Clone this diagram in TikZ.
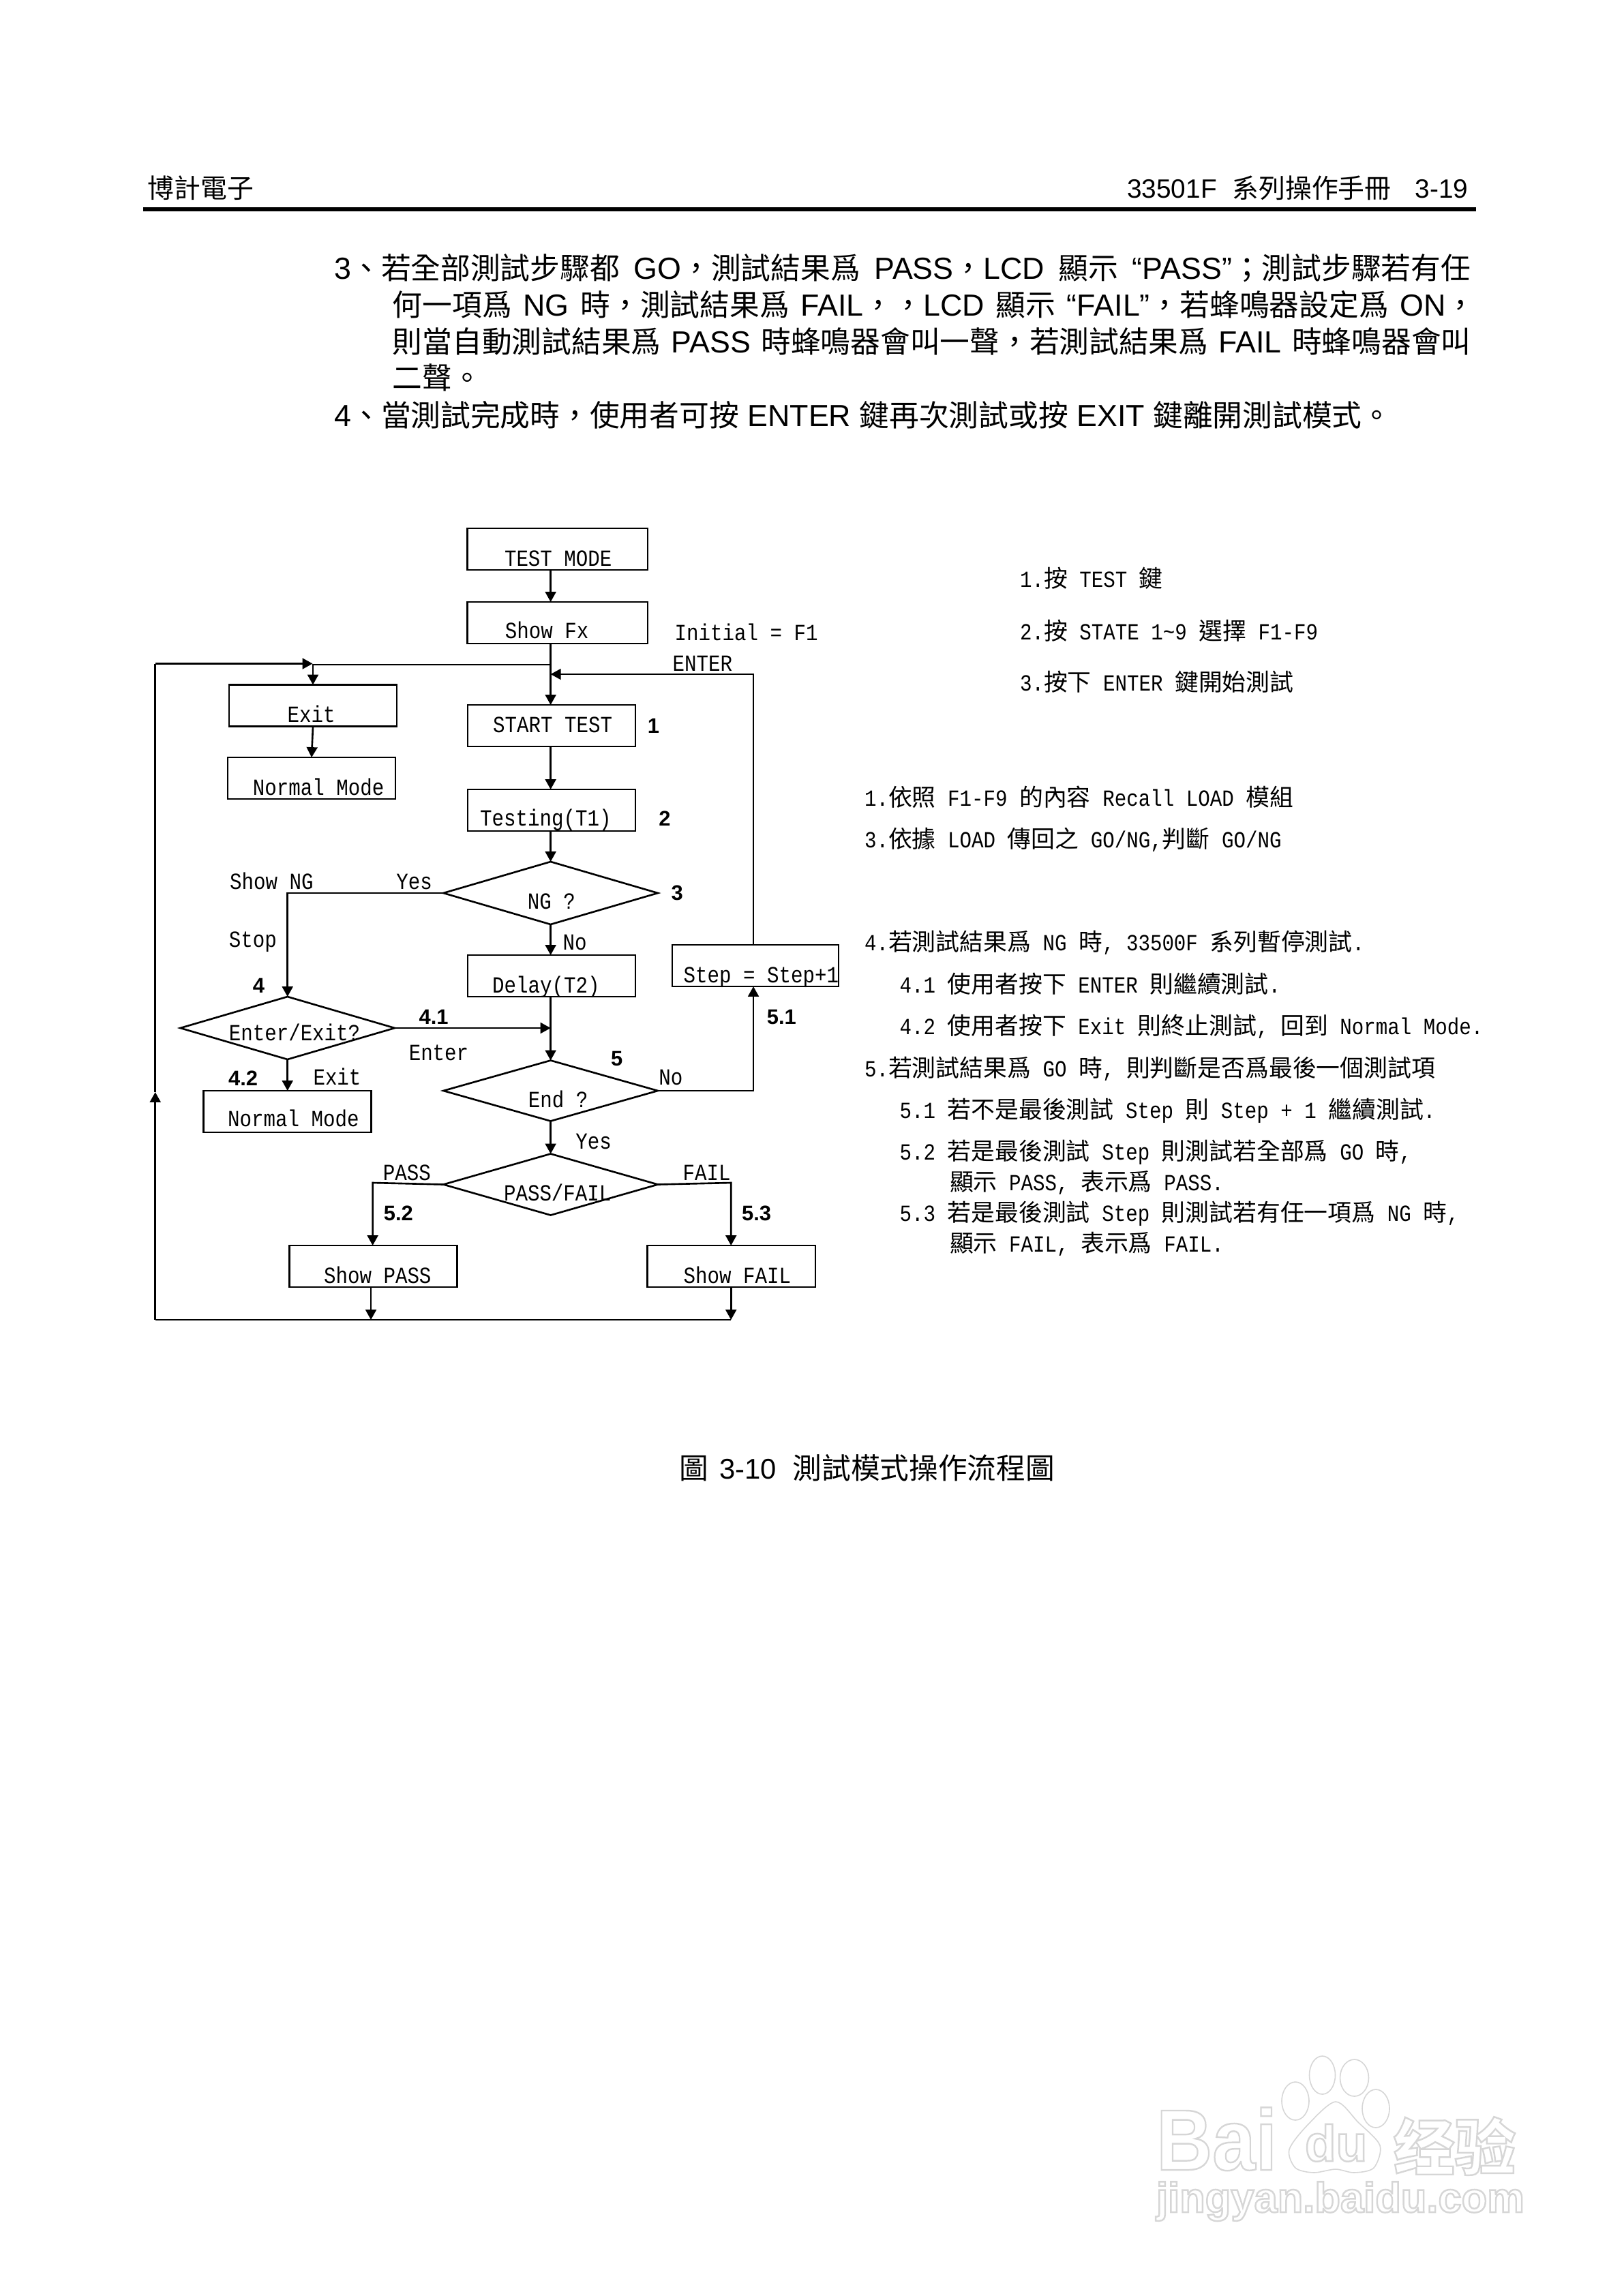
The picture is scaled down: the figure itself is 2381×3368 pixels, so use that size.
\documentclass[tikz,border=0pt]{standalone}
\usepackage{fontspec}
\usetikzlibrary{shapes.geometric,arrows.meta}
\setmainfont{Liberation Sans}
\newfontfamily\monof[FakeStretch=0.86]{Liberation Mono}
\newfontfamily\cjkf{Noto Sans CJK TC}
\newfontfamily\cjksc{Noto Sans CJK SC}
\newcommand{\CJ}[1]{{\cjkf #1}}
\newcommand{\BJ}[1]{{\cjkf\fontsize{24.9pt}{30pt}\selectfont #1}}
\newcommand{\NT}[1]{{\cjkf\fontsize{19.84pt}{22pt}\selectfont #1}}
\newcommand{\OUTL}[1]{\special{pdf: code q 1 Tr 1.4 w 0.84 G}#1\special{pdf: code Q}}
\definecolor{wm}{gray}{0.84}
\tikzset{
  tx/.style={anchor=base west,inner sep=0pt,outer sep=0pt},
  mg/.style={tx,font=\monof\fontsize{19.3pt}{22pt}\selectfont},
  num/.style={tx,font=\bfseries\fontsize{17.6pt}{20pt}\selectfont},
  bodyt/.style={tx,font=\fontsize{25.5pt}{30pt}\selectfont},
  capt/.style={tx,font=\fontsize{23.8pt}{30pt}\selectfont},
  headt/.style={tx,font=\fontsize{22.1pt}{26pt}\selectfont},
  boxn/.style={draw,line width=1.5pt,inner sep=0pt,outer sep=0pt,minimum height=1.22cm,minimum width=4.925cm},
  dia/.style={draw,line width=1.5pt,diamond,inner sep=0pt,outer sep=0pt,minimum width=6.29cm,minimum height=1.84cm},
  arr/.style={line width=1.5pt,-{Triangle[length=8.5pt,width=9pt]}},
  lin/.style={line width=1.5pt},
  wmo/.style={anchor=base west,inner sep=0pt,outer sep=0pt},
}
\begin{document}
\begin{tikzpicture}[x=0.02cm,y=-0.02cm]
\useasboundingbox (0,0) rectangle (2381,3368);
\begin{scope}[x=0.019904cm,xshift=0.0192cm]
% header
\node[headt] (h1) at (217,290) {\CJ{博計電子}};
\node[headt,anchor=base east] (h2) at (2164,290) {33501F\hspace{13pt}\CJ{系列操作手冊}\hspace{20pt}3-19};
\fill (210,304) rectangle (2176,310);
% body
\node[bodyt] (b1) at (492,409) {\makebox[33.34cm][s]{3\BJ{、若全部測試步驟都} GO\BJ{，測試結果爲} PASS\BJ{，}LCD \BJ{顯示} “PASS”\BJ{；測試步驟若有任}}};
\node[bodyt] (b2) at (578,463) {\makebox[31.78cm][s]{\BJ{何一項爲} NG \BJ{時，測試結果爲} FAIL\BJ{，，}LCD \BJ{顯示} “FAIL”\BJ{，若蜂鳴器設定爲} ON\BJ{，}}};
\node[bodyt] (b3) at (578,517) {\makebox[31.64cm][s]{\BJ{則當自動測試結果爲} PASS \BJ{時蜂鳴器會叫一聲，若測試結果爲} FAIL \BJ{時蜂鳴器會叫}}};
\node[bodyt] (b4) at (578,570) {\BJ{二聲。}};
\node[bodyt] (b5) at (492,625) {4\BJ{、當測試完成時，使用者可按} ENTER \BJ{鍵再次測試或按} EXIT \BJ{鍵離開測試模式。}};
% boxes
\node[boxn,minimum width=5.285cm] (testmode) at (821.3,805.5) {};
\node[boxn,minimum width=5.285cm] (showfx) at (821.3,913.5) {};
\node[boxn] (start) at (812.3,1064.5) {};
\node[boxn] (testing) at (812.3,1188.5) {};
\node[boxn] (delay) at (812.3,1431.5) {};
\node[boxn] (exitb) at (460.5,1035) {};
\node[boxn] (nm1) at (458.5,1141.5) {};
\node[boxn] (nm2) at (422.75,1630.5) {};
\node[boxn,minimum width=4.875cm] (stepb) at (1113,1416.5) {};
\node[boxn] (sp) at (549.5,1857.5) {};
\node[boxn] (sf) at (1077.5,1857.5) {};
\node[dia] (ng) at (811,1310) {};
\node[dia] (ee) at (423,1508) {};
\node[dia,minimum height=1.78cm] (endq) at (811,1600) {};
\node[dia,minimum height=1.8cm] (pf) at (811,1737.5) {};
% junctions
\coordinate (j1) at (811,975);
\coordinate (j2) at (811,989);
\coordinate (j3) at (811,1508);
\coordinate (jx) at (460,973.5);
\coordinate (tl) at (228,973.5);
\coordinate (lm) at (228,1602);
\coordinate (bl) at (228,1936);
\coordinate (bp) at (546,1936);
\coordinate (bf) at (1077,1936);
\coordinate (sb) at (1110,1447);
\coordinate (pc) at (548.6,1735);
\coordinate (fc) at (1077,1735);
% connectors
\draw[arr] (testmode.south -| j1) -- (showfx.north -| j1);
\draw[arr] (showfx.south -| j1) -- (start.north -| j1);
\draw[arr] (j1) -| (exitb.north);
\draw[arr] (exitb.south) -- (nm1.north);
\draw[arr] (start.south -| j1) -- (testing.north -| j1);
\draw[arr] (testing.south -| j1) -- (ng.north);
\draw[arr] (ng.south) -- (delay.north -| j1);
\draw[arr] (ng.west) -| (ee.north);
\draw[arr] (ee.east) -- (j3);
\draw[arr] (delay.south -| j1) -- (endq.north);
\draw[arr] (ee.south) -- (nm2.north -| ee.south);
\draw[arr] (endq.east) -| (sb);
\draw[arr,line width=1.2pt] (stepb.north -| sb) |- (j2);
\draw[arr] (endq.south) -- (pf.north);
\draw[arr] (pf.west) -- (pc) -- (sp.north -| pc);
\draw[arr] (pf.east) -- (fc) -- (sf.north -| fc);
\draw[arr] (sp.south -| bp) -- (bp);
\draw[arr] (sf.south -| bf) -- (bf);
\draw[lin] (bf) -- (bl);
\draw[arr] (bl) -- (lm);
\draw[lin] (lm) -- (tl);
\draw[arr] (tl) -- (jx);
% flowchart labels
\node[mg] (l1) at (743,830) {TEST MODE};
\node[mg] (l2) at (744,936) {Show Fx};
\node[mg] (l3) at (994,939) {Initial = F1};
\node[mg] (l4) at (991,984) {ENTER};
\node[mg] (l5) at (423,1059) {Exit};
\node[mg] (l6) at (726,1074) {START TEST};
\node[mg] (l7) at (372,1166) {Normal Mode};
\node[mg] (l8) at (707,1211) {Testing(T1)};
\node[mg] (l9) at (338,1304.5) {Show NG};
\node[mg] (l10) at (583.6,1304.5) {Yes};
\node[mg] (l11) at (777,1333) {NG ?};
\node[mg] (l12) at (829,1393.6) {No};
\node[mg] (l13) at (336.6,1389) {Stop};
\node[mg] (l14) at (1007,1441) {Step = Step+1};
\node[mg] (l15) at (725,1456.5) {Delay(T2)};
\node[mg] (l16) at (336.6,1526) {Enter/Exit?};
\node[mg] (l17) at (602,1555) {Enter};
\node[mg] (l18) at (970.5,1591.5) {No};
\node[mg] (l19) at (461,1591.5) {Exit};
\node[mg] (l20) at (778,1624) {End ?};
\node[mg] (l21) at (335,1652.5) {Normal Mode};
\node[mg] (l22) at (848,1685) {Yes};
\node[mg] (l23) at (564,1731.5) {PASS};
\node[mg] (l24) at (1006,1731.5) {FAIL};
\node[mg] (l25) at (742,1761) {PASS/FAIL};
\node[mg] (l26) at (476.6,1882) {Show PASS};
\node[mg] (l27) at (1007,1882) {Show FAIL};
% step numbers
\node[num] (n1) at (954,1075) {1};
\node[num] (n2) at (970.5,1211) {2};
\node[num] (n3) at (989,1320) {3};
\node[num] (n4) at (372,1456.5) {4};
\node[num] (n41) at (617,1502) {4.1};
\node[num] (n51) at (1130,1502) {5.1};
\node[num] (n5) at (900,1563) {5};
\node[num] (n42) at (336,1592) {4.2};
\node[num] (n52) at (565,1790) {5.2};
\node[num] (n53) at (1093,1790) {5.3};
\end{scope}
% side notes
\node[mg] (s1) at (1496,861) {1.\NT{按} TEST \NT{鍵}};
\node[mg] (s2) at (1496,938) {2.\NT{按} STATE 1\textasciitilde 9 \NT{選擇} F1-F9};
\node[mg] (s3) at (1496,1013) {3.\NT{按下} ENTER \NT{鍵開始測試}};
\node[mg] (s4) at (1268,1182) {1.\NT{依照} F1-F9 \NT{的內容} Recall LOAD \NT{模組}};
\node[mg] (s5) at (1268,1243) {3.\NT{依據} LOAD \NT{傳回之} GO/NG,\NT{判斷} GO/NG};
\node[mg] (s6) at (1268,1394) {4.\NT{若測試結果爲} NG \NT{時}, 33500F \NT{系列暫停測試}.};
\node[mg] (s7) at (1319.6,1456) {4.1 \NT{使用者按下} ENTER \NT{則繼續測試}.};
\node[mg] (s8) at (1319.6,1517.5) {4.2 \NT{使用者按下} Exit \NT{則終止測試}, \NT{回到} Normal Mode.};
\node[mg] (s9) at (1268,1579) {5.\NT{若測試結果爲} GO \NT{時}, \NT{則判斷是否爲最後一個測試項}};
\node[mg] (s10) at (1319.6,1640) {5.1 \NT{若不是最後測試} Step \NT{則} Step + 1 \NT{繼續測試}.};
\node[mg] (s11) at (1319.6,1701) {5.2 \NT{若是最後測試} Step \NT{則測試若全部爲} GO \NT{時},};
\node[mg] (s12) at (1393,1746) {\NT{顯示} PASS, \NT{表示爲} PASS.};
\node[mg] (s13) at (1319.6,1791) {5.3 \NT{若是最後測試} Step \NT{則測試若有任一項爲} NG \NT{時},};
\node[mg] (s14) at (1393,1836) {\NT{顯示} FAIL, \NT{表示爲} FAIL.};
% caption
\node[capt] (cap) at (996,2169) {{\cjkf\fontsize{24.3pt}{30pt}\selectfont 圖}\hspace{9.5pt}3-10\hspace{13.5pt}{\cjkf\fontsize{24.3pt}{30pt}\selectfont 測試模式操作流程圖}};
% watermark
\begin{scope}[draw=wm,line width=0.9pt,fill=white]
\filldraw (1900,3082) ellipse [x radius=20,y radius=28];
\filldraw (1939.5,3044) ellipse [x radius=19,y radius=28];
\filldraw (1986.5,3048) ellipse [x radius=21,y radius=27];
\filldraw (2018,3093) ellipse [x radius=20,y radius=28];
\filldraw plot[smooth cycle] coordinates {(1959,3083) (1992,3113) (2024,3147) (2015,3180) (1986,3187) (1959,3182) (1927,3187) (1900,3180) (1891,3153) (1918,3117)};
\end{scope}
\node[wmo,xscale=0.9,font=\bfseries\fontsize{72pt}{80pt}\selectfont] (w1) at (1696,3183) {\OUTL{Bai}};
\node[wmo,font=\bfseries\fontsize{42.5pt}{50pt}\selectfont] (w2) at (1914,3170) {\OUTL{du}};
\node[wmo,font=\cjksc\bfseries\fontsize{51pt}{60pt}\selectfont] (w3) at (2044,3183) {\OUTL{经验}};
\node[wmo,font=\bfseries\fontsize{35pt}{40pt}\selectfont] (w4) at (1696,3245) {\OUTL{jingyan.baidu.com}};
\end{tikzpicture}
\end{document}
